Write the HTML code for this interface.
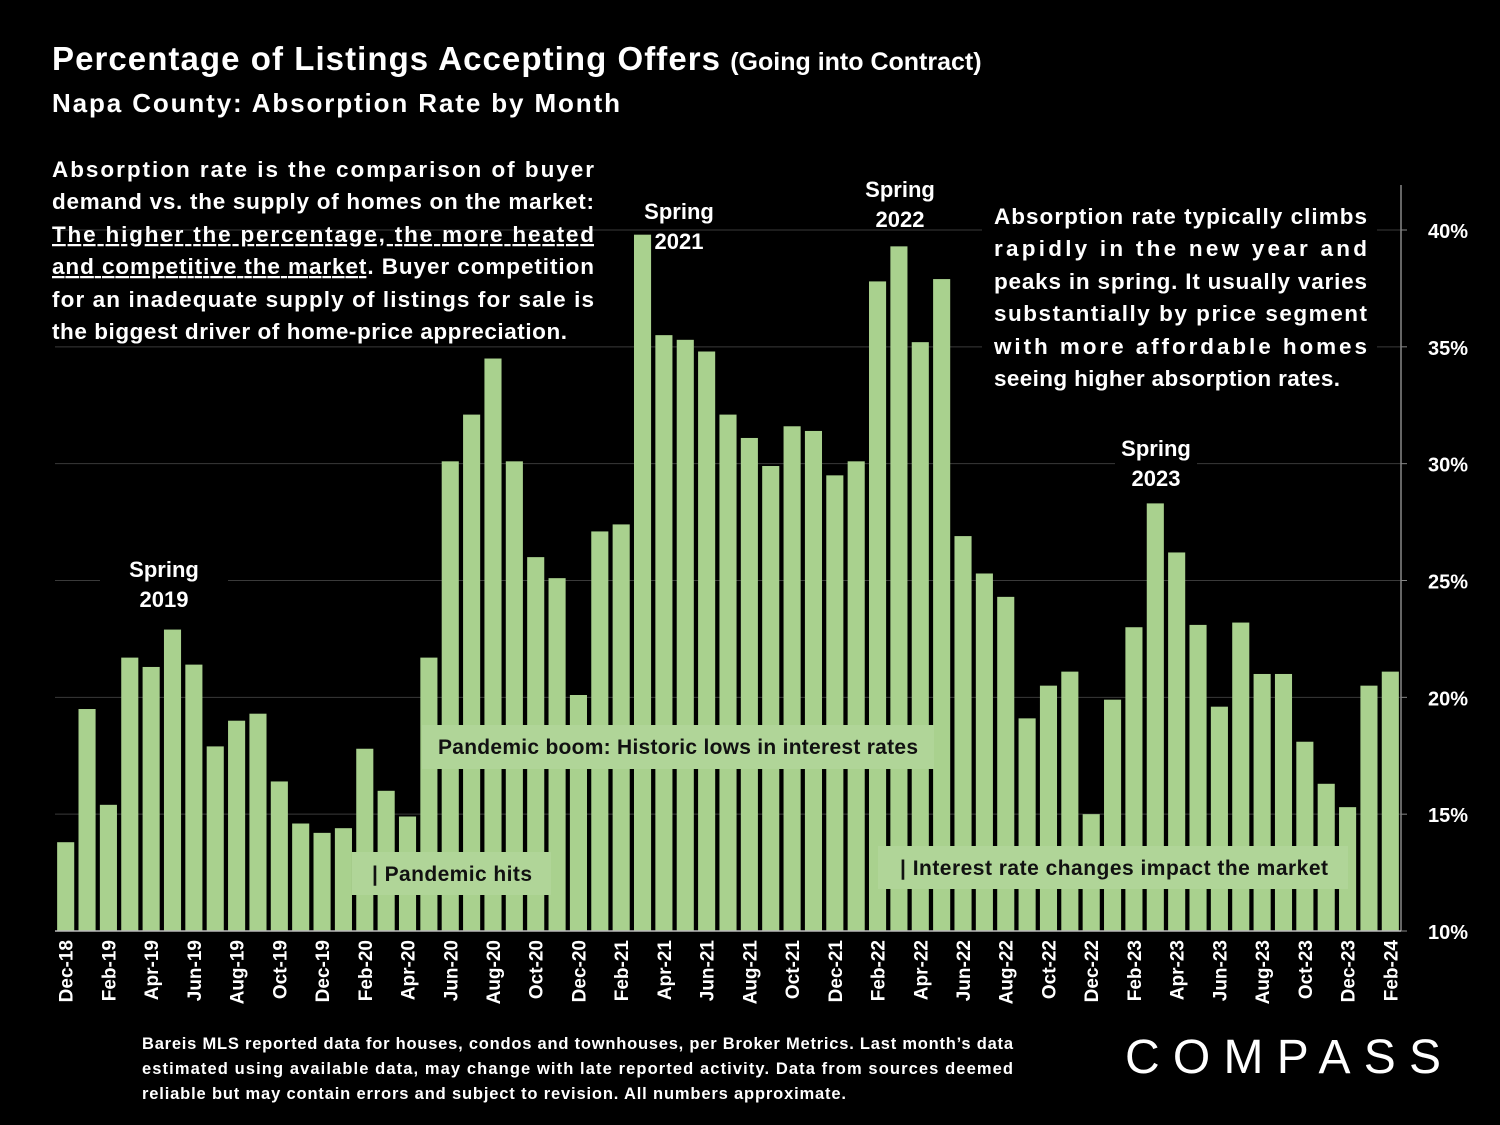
<!DOCTYPE html>
<html><head><meta charset="utf-8">
<style>
body{margin:0;background:#000;}
svg{display:block;font-family:"Liberation Sans",sans-serif;}
.t{fill:#fff;font-weight:bold;}
</style></head>
<body>
<svg id="chart" width="1500" height="1125" viewBox="0 0 1500 1125">
<rect width="1500" height="1125" fill="#000"/>
<text class="t" x="52" y="70" font-size="33"><tspan textLength="668">Percentage of Listings Accepting Offers</tspan> <tspan font-size="25">(Going into Contract)</tspan></text>
<text class="t" x="52" y="112" font-size="26" textLength="568">Napa County:  Absorption Rate by Month</text>
<g id="grid"></g>
<g id="bars"></g>
<g id="yticks"></g>
<g id="xticks"></g>
<g font-size="22.5" class="t">
<text class="t" x="52" y="177" textLength="542">Absorption rate is the comparison of buyer</text>
<text class="t" x="52" y="209" textLength="542">demand vs. the supply of homes on the market:</text>
<text class="t" x="52" y="242" textLength="542" text-decoration="underline">The higher the percentage, the more heated</text>
<text class="t" x="52" y="274" textLength="542"><tspan text-decoration="underline">and competitive the market</tspan>. Buyer competition</text>
<text class="t" x="52" y="307" textLength="542">for an inadequate supply of listings for sale is</text>
<text class="t" x="52" y="339" textLength="515">the biggest driver of home-price appreciation.</text>
</g>
<g font-size="22.5" class="t">
<rect x="982" y="195" width="395" height="200" fill="#000"/>
<text class="t" x="994" y="224" textLength="373">Absorption rate typically climbs</text>
<text class="t" x="994" y="256" textLength="373">rapidly in the new year and</text>
<text class="t" x="994" y="289" textLength="373">peaks in spring. It usually varies</text>
<text class="t" x="994" y="321" textLength="373">substantially by price segment</text>
<text class="t" x="994" y="354" textLength="373">with more affordable homes</text>
<text class="t" x="994" y="386" textLength="346">seeing higher absorption rates.</text>
</g>
<g id="springs" font-size="22" class="t" text-anchor="middle">
<rect x="100" y="552" width="128" height="62" fill="#000"/>
<text class="t" x="164" y="577">Spring</text><text class="t" x="164" y="607">2019</text>
<text class="t" x="679" y="219">Spring</text><text class="t" x="679" y="249">2021</text>
<text class="t" x="900" y="197">Spring</text><text class="t" x="900" y="227">2022</text>
<rect x="1115" y="432" width="82" height="62" fill="#000"/>
<text class="t" x="1156" y="456">Spring</text><text class="t" x="1156" y="486">2023</text>
</g>
<g font-size="21" font-weight="bold">
<rect x="422" y="725" width="512" height="44" fill="#b0d598"/>
<text x="678" y="754" text-anchor="middle" fill="#111" textLength="480">Pandemic boom: Historic lows in interest rates</text>
<rect x="352" y="852" width="199" height="43" fill="#b0d598"/>
<text x="372" y="881" fill="#111" textLength="160">| Pandemic hits</text>
<rect x="878" y="846" width="470" height="43" fill="#b0d598"/>
<text x="900" y="875" fill="#111" textLength="428">| Interest rate changes impact the market</text>
</g>
<g font-size="16.5" font-weight="bold" fill="#fff">
<text x="142" y="1049" textLength="871">Bareis MLS reported data for houses, condos and townhouses, per Broker Metrics. Last month’s data</text>
<text x="142" y="1074" textLength="871">estimated using available data, may change with late reported activity. Data from sources deemed</text>
<text x="142" y="1099" textLength="704">reliable but may contain errors and subject to revision. All numbers approximate.</text>
</g>
<text x="1125" y="1073" font-size="48" fill="#fff" textLength="316">COMPASS</text>
<script>
const months = ["Dec-18","Jan-19","Feb-19","Mar-19","Apr-19","May-19","Jun-19","Jul-19","Aug-19","Sep-19","Oct-19","Nov-19","Dec-19","Jan-20","Feb-20","Mar-20","Apr-20","May-20","Jun-20","Jul-20","Aug-20","Sep-20","Oct-20","Nov-20","Dec-20","Jan-21","Feb-21","Mar-21","Apr-21","May-21","Jun-21","Jul-21","Aug-21","Sep-21","Oct-21","Nov-21","Dec-21","Jan-22","Feb-22","Mar-22","Apr-22","May-22","Jun-22","Jul-22","Aug-22","Sep-22","Oct-22","Nov-22","Dec-22","Jan-23","Feb-23","Mar-23","Apr-23","May-23","Jun-23","Jul-23","Aug-23","Sep-23","Oct-23","Nov-23","Dec-23","Jan-24","Feb-24"];
const values = [13.8,19.5,15.4,21.7,21.3,22.9,21.4,17.9,19.0,19.3,16.4,14.6,14.2,14.4,17.8,16.0,14.9,21.7,30.1,32.1,34.5,30.1,26.0,25.1,20.1,27.1,27.4,39.8,35.5,35.3,34.8,32.1,31.1,29.9,31.6,31.4,29.5,30.1,37.8,39.3,35.2,37.9,26.9,25.3,24.3,19.1,20.5,21.1,15.0,19.9,23.0,28.3,26.2,23.1,19.6,23.2,21.0,21.0,18.1,16.3,15.3,20.5,21.1];
const yTicks = [10,15,20,25,30,35,40];
const NS="http://www.w3.org/2000/svg";
const x0=55,x1=1401,yMin=10,yMax=40,py0=931,py1=230;
const y=v=>py0-(v-yMin)/(yMax-yMin)*(py0-py1);
const step=(x1-x0)/months.length;
const xc=i=>x0+step*(i+0.5);
function mk(tag,attrs,parent){const e=document.createElementNS(NS,tag);for(const k in attrs)e.setAttribute(k,attrs[k]);parent.appendChild(e);return e;}
const grid=document.getElementById('grid'),bars=document.getElementById('bars'),yt=document.getElementById('yticks'),xt=document.getElementById('xticks');
yTicks.forEach(t=>{
  if(t>yMin){const l=mk('line',{x1:x0,x2:x1,y1:y(t),y2:y(t),stroke:'#3a3a3a','stroke-width':1},grid);
  
  }
  const tx=mk('text',{x:1468,y:y(t)+8,'text-anchor':'end','font-size':20,'font-weight':'bold',fill:'#fff'},yt);
  tx.textContent=t+'%';
  
  
  const tk=mk('line',{x1:x1,x2:x1+6,y1:y(t),y2:y(t),stroke:'#888'},yt);
  
  
});
values.forEach((v,i)=>{
  const w=step*0.8;
  const r=mk('rect',{x:xc(i)-w/2,y:y(v),width:w,height:py0-y(v),fill:'#a9d18e'},bars);
  
  
});
mk('line',{x1:x0,x2:x1,y1:py0,y2:py0,stroke:'#bbb','stroke-width':1.5},xt);
mk('line',{x1:x1,x2:x1,y1:185,y2:py0,stroke:'#888','stroke-width':1.5},yt);
months.forEach((m,i)=>{
  if(i%2!==0)return;
  const tx=mk('text',{x:0,y:0,'text-anchor':'end','font-size':19,'font-weight':'bold',fill:'#fff',transform:`translate(${xc(i)+7},940) rotate(-90)`},xt);
  tx.textContent=m;
  
  
});
</script>
</svg>
</body></html>
